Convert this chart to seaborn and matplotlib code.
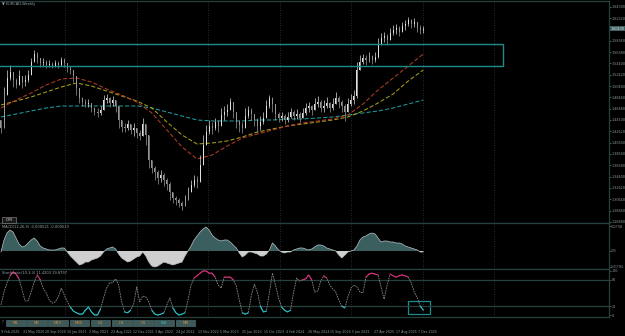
import numpy as np
import pandas as pd
import matplotlib
matplotlib.use("Agg")
import matplotlib.pyplot as plt
import matplotlib.dates as mdates
from matplotlib.patches import Rectangle
import seaborn as sns

sns.set_theme(style="dark", rc={"axes.facecolor": "black", "figure.facecolor": "black",
                                "axes.grid": False})
plt.rcParams['font.family'] = ['DejaVu Sans']

# EURCAD weekly candles (one value every ~2 weeks)
close = [1.4310, 1.4888, 1.5185, 1.5290, 1.5150, 1.5063, 1.5220, 1.5115, 1.5150, 1.5238,
         1.5465, 1.5605, 1.5535, 1.5448, 1.5465, 1.5413, 1.5430, 1.5395, 1.5448, 1.5413,
         1.5500, 1.5448, 1.5360, 1.5325, 1.5220, 1.5010, 1.4835, 1.4765, 1.4730, 1.4748,
         1.4660, 1.4590, 1.4573, 1.4625, 1.4800, 1.4835, 1.4748, 1.4800, 1.4695, 1.4450,
         1.4328, 1.4310, 1.4380, 1.4275, 1.4310, 1.4223, 1.4170, 1.4380, 1.4188, 1.3750,
         1.3610, 1.3540, 1.3435, 1.3488, 1.3400, 1.3330, 1.3190, 1.3085, 1.3050, 1.2998,
         1.2945, 1.3050, 1.3190, 1.3313, 1.3400, 1.3365, 1.3663, 1.4013, 1.4240, 1.4345,
         1.4310, 1.4415, 1.4345, 1.4538, 1.4590, 1.4625, 1.4765, 1.4590, 1.4415, 1.4363,
         1.4310, 1.4520, 1.4625, 1.4555, 1.4450, 1.4345, 1.4415, 1.4485, 1.4695, 1.4835,
         1.4730, 1.4555, 1.4485, 1.4520, 1.4450, 1.4503, 1.4590, 1.4520, 1.4555, 1.4485,
         1.4573, 1.4660, 1.4695, 1.4625, 1.4730, 1.4765, 1.4660, 1.4695, 1.4748, 1.4660,
         1.4730, 1.4835, 1.4765, 1.4695, 1.4590, 1.4730, 1.4800, 1.4870, 1.5325, 1.5465,
         1.5535, 1.5500, 1.5570, 1.5500, 1.5553, 1.5763, 1.5885, 1.5920, 1.5850, 1.5973,
         1.6025, 1.6060, 1.5990, 1.6095, 1.6130, 1.6200, 1.6130, 1.6165, 1.6060, 1.6025,
         1.6043]
high = [1.4450, 1.5028, 1.5325, 1.5413, 1.5290, 1.5185, 1.5325, 1.5220, 1.5238, 1.5325,
        1.5535, 1.5675, 1.5640, 1.5535, 1.5535, 1.5500, 1.5500, 1.5465, 1.5500, 1.5483,
        1.5553, 1.5535, 1.5430, 1.5395, 1.5325, 1.5150, 1.4975, 1.4853, 1.4818, 1.4818,
        1.4730, 1.4678, 1.4660, 1.4695, 1.4888, 1.4905, 1.4853, 1.4870, 1.4800, 1.4625,
        1.4415, 1.4398, 1.4450, 1.4380, 1.4398, 1.4310, 1.4275, 1.4485, 1.4328, 1.3960,
        1.3750, 1.3645, 1.3575, 1.3575, 1.3523, 1.3435, 1.3365, 1.3190, 1.3120, 1.3085,
        1.3033, 1.3138, 1.3278, 1.3400, 1.3488, 1.3470, 1.3838, 1.4188, 1.4363, 1.4450,
        1.4415, 1.4485, 1.4450, 1.4660, 1.4695, 1.4730, 1.4835, 1.4730, 1.4555, 1.4450,
        1.4415, 1.4660, 1.4695, 1.4660, 1.4555, 1.4485, 1.4520, 1.4590, 1.4800, 1.4888,
        1.4853, 1.4660, 1.4590, 1.4590, 1.4555, 1.4590, 1.4660, 1.4625, 1.4643, 1.4590,
        1.4660, 1.4748, 1.4765, 1.4713, 1.4835, 1.4870, 1.4800, 1.4800, 1.4853, 1.4765,
        1.4835, 1.4940, 1.4870, 1.4800, 1.4730, 1.4835, 1.4905, 1.4975, 1.5465, 1.5588,
        1.5605, 1.5588, 1.5640, 1.5588, 1.5640, 1.5885, 1.5973, 1.5990, 1.5955, 1.6060,
        1.6113, 1.6130, 1.6095, 1.6165, 1.6200, 1.6253, 1.6218, 1.6235, 1.6165, 1.6113,
        1.6095]
low = [1.4223, 1.4625, 1.5063, 1.5150, 1.5028, 1.5010, 1.5115, 1.5010, 1.5045, 1.5115,
       1.5325, 1.5500, 1.5448, 1.5378, 1.5395, 1.5360, 1.5378, 1.5360, 1.5378, 1.5360,
       1.5395, 1.5378, 1.5290, 1.5255, 1.5115, 1.4888, 1.4748, 1.4695, 1.4678, 1.4678,
       1.4590, 1.4538, 1.4503, 1.4538, 1.4660, 1.4748, 1.4678, 1.4695, 1.4590, 1.4310,
       1.4240, 1.4240, 1.4275, 1.4205, 1.4170, 1.4135, 1.4100, 1.4275, 1.4013, 1.3610,
       1.3523, 1.3400, 1.3330, 1.3365, 1.3295, 1.3225, 1.3050, 1.2998, 1.2963, 1.2928,
       1.2875, 1.2945, 1.3085, 1.3190, 1.3278, 1.3260, 1.3435, 1.3838, 1.4065, 1.4205,
       1.4205, 1.4275, 1.4240, 1.4415, 1.4450, 1.4520, 1.4625, 1.4485, 1.4310, 1.4240,
       1.4223, 1.4415, 1.4485, 1.4450, 1.4345, 1.4240, 1.4275, 1.4380, 1.4555, 1.4660,
       1.4590, 1.4450, 1.4415, 1.4433, 1.4380, 1.4415, 1.4485, 1.4450, 1.4468, 1.4415,
       1.4485, 1.4538, 1.4590, 1.4538, 1.4625, 1.4678, 1.4590, 1.4590, 1.4660, 1.4590,
       1.4625, 1.4730, 1.4660, 1.4590, 1.4433, 1.4590, 1.4695, 1.4730, 1.4835, 1.5360,
       1.5430, 1.5413, 1.5465, 1.5430, 1.5465, 1.5535, 1.5763, 1.5815, 1.5763, 1.5850,
       1.5938, 1.5955, 1.5920, 1.5990, 1.6025, 1.6095, 1.6060, 1.6078, 1.5990, 1.5955,
       1.5973]
first_open = 1.4450

# moving averages, one reading every 5 bars
ma_fast = [1.4660, 1.4800, 1.4923, 1.5063, 1.5168, 1.5185, 1.5115, 1.4993, 1.4888, 1.4765,
           1.4573, 1.4275, 1.3978, 1.3768, 1.3838, 1.3995, 1.4135, 1.4205, 1.4275, 1.4345,
           1.4398, 1.4433, 1.4468, 1.4538, 1.4730, 1.4975, 1.5185, 1.5395, 1.5605]
ma_mid = [1.4713, 1.4783, 1.4853, 1.4940, 1.5028, 1.5098, 1.5045, 1.4958, 1.4870, 1.4783,
          1.4660, 1.4415, 1.4188, 1.4030, 1.4048, 1.4083, 1.4153, 1.4240, 1.4293, 1.4345,
          1.4380, 1.4415, 1.4450, 1.4503, 1.4608, 1.4748, 1.4905, 1.5133, 1.5325]
ma_slow = [1.4503, 1.4555, 1.4608, 1.4660, 1.4695, 1.4695, 1.4695, 1.4695, 1.4695, 1.4695,
           1.4660, 1.4590, 1.4520, 1.4450, 1.4433, 1.4433, 1.4433, 1.4450, 1.4450, 1.4468,
           1.4468, 1.4485, 1.4503, 1.4538, 1.4573, 1.4608, 1.4660, 1.4730, 1.4800]

# MACD histogram, read in steps of 1/900
macd_steps = [-1, 11, 18, 21, 19, 13, 7, 4, 5, 8,
              11, 13, 10, 5, 3, 2, 1, 1, 1, 2,
              3, 3, -1, -5, -8, -11, -14, -13, -11, -11,
              -9, -8, -7, -5, -1, 2, 3, 4, 2, -3,
              -7, -9, -11, -10, -8, -6, -5, -1, -5, -11,
              -15, -16, -15, -13, -11, -12, -13, -14, -13, -12,
              -11, -5, 0, 5, 11, 15, 19, 22, 24, 21,
              16, 13, 11, 10, 11, 11, 9, 6, 3, -2,
              -6, -4, -1, -1, -2, -3, -5, -5, -3, 1,
              8, 5, 1, -1, -2, -1, -1, 1, 2, 3,
              3, 2, 1, 2, 4, 6, 6, 5, 3, 2,
              1, 0, -4, -7, -4, -1, 0, 1, 5, 11,
              14, 15, 17, 18, 17, 13, 9, 10, 10, 9,
              9, 8, 8, 7, 5, 4, 3, 2, 1, -1,
              -1]

stoch = [23, 52, 73, 89, 98, 93, 82, 57, 32, 32,
         52, 75, 91, 80, 61, 50, 34, 27, 30, 41,
         61, 45, 30, 18, 9, 5, 2, 2, 11, 18,
         7, 0, 0, 14, 39, 61, 73, 73, 82, 68,
         30, 7, 5, 11, 25, 64, 30, 43, 41, 30,
         11, 2, 0, 2, 5, 23, 39, 16, 5, 0,
         2, 5, 34, 68, 84, 89, 95, 100, 100, 95,
         95, 86, 68, 61, 86, 86, 86, 80, 66, 34,
         5, 2, 5, 45, 70, 52, 20, 7, 9, 52,
         95, 68, 39, 18, 11, 7, 11, 52, 84, 77,
         80, 82, 91, 80, 52, 55, 77, 89, 84, 68,
         59, 52, 34, 20, 16, 41, 61, 68, 64, 52,
         50, 86, 93, 95, 93, 91, 64, 36, 68, 93,
         89, 86, 89, 91, 89, 86, 73, 52, 39, 20,
         11]

price_ticks = [1.6430, 1.6232, 1.5836, 1.5638, 1.5440, 1.5242, 1.5044, 1.4846, 1.4648,
               1.4450, 1.4252, 1.4054, 1.3856, 1.3658, 1.3460, 1.3262, 1.3064, 1.2866, 1.2668]
macd_ticks = [0.027746, 0.0, -0.017760]
date_labels = ["9 Feb 2020", "31 May 2020", "20 Sep 2020", "10 Jan 2021", "2 May 2021",
               "22 Aug 2021", "12 Dec 2021", "3 Apr 2022", "24 Jul 2022", "13 Nov 2022",
               "5 Mar 2023", "25 Jun 2023", "15 Oct 2023", "4 Feb 2024", "26 May 2024",
               "15 Sep 2024", "5 Jan 2025", "27 Apr 2025", "17 Aug 2025", "7 Dec 2025"]
tf_buttons = ["M1", "M5", "M15", "M30", "H1", "H4", "D1", "W1", "MN"]

zone_top, zone_bottom = 1.5780, 1.5395
zone_end = "2027-02-15"

dates = pd.date_range("2020-02-09", "2026-01-04", periods=len(close))
ma_dates = dates[::5]

W, H = 625, 336
fig = plt.figure(figsize=(W / 100, H / 100), dpi=100)
fig.patch.set_facecolor("black")


def box(x0, y0, x1, y1):
    return [x0 / W, 1 - y1 / H, (x1 - x0) / W, (y1 - y0) / H]


ax_p = fig.add_axes(box(0, 1, 609, 223))
ax_m = fig.add_axes(box(0, 223, 609, 269))
ax_s = fig.add_axes(box(0, 269, 609, 317))

border = "#27403f"
label_col = "#8e9e9e"
fs = 2.4
x_left, x_right = pd.Timestamp("2020-02-04"), pd.Timestamp("2028-08-09")

for ax in (ax_p, ax_m, ax_s):
    ax.set_facecolor("black")
    for yr in range(2021, 2028):
        ax.axvline(pd.Timestamp(f"{yr}-01-01"), color="#3a3a3a", lw=0.6, ls=(0, (1, 2)), zorder=0)
    ax.spines["left"].set_visible(False)
    for s in ("top", "bottom", "right"):
        ax.spines[s].set_color(border)
        ax.spines[s].set_linewidth(0.9)
    ax.yaxis.tick_right()
    ax.tick_params(axis="y", right=True, left=False, labelright=True, labelleft=False,
                   length=1.2, width=0.4, pad=0.6, labelsize=fs, colors=label_col)
    ax.tick_params(axis="x", bottom=False, labelbottom=False)

# ---- price panel ----
c = np.array(close)
o = np.r_[first_open, c[:-1]]
hi = np.maximum(np.array(high), np.maximum(o, c))
lo = np.minimum(np.array(low), np.minimum(o, c))
bull = c >= o
ax_p.vlines(dates, lo, hi, color=np.where(bull, "#d8d8d8", "#9a9a9a"), lw=0.5, zorder=3)
ax_p.bar(dates, c - o, bottom=o, width=5, color=np.where(bull, "#e0e0e0", "#959595"),
         linewidth=0, zorder=3)

sns.lineplot(x=ma_dates, y=ma_slow, ax=ax_p, color="#1f9c9c", lw=0.75, ls=(0, (4, 2)), zorder=2)
sns.lineplot(x=ma_dates, y=ma_mid, ax=ax_p, color="#a69e1a", lw=0.75, ls=(0, (4, 2)), zorder=2)
sns.lineplot(x=ma_dates, y=ma_fast, ax=ax_p, color="#b03c26", lw=0.75, ls=(0, (4, 2)), zorder=2)

x0 = mdates.date2num(pd.Timestamp("2019-06-01"))
ax_p.add_patch(Rectangle((x0, zone_bottom), mdates.date2num(pd.Timestamp(zone_end)) - x0,
                         zone_top - zone_bottom, fill=False, ec="#1e8c8c", lw=1.0, zorder=4))

ax_p.set_ylim(1.26475, 1.65325)
ax_p.set_yticks(price_ticks)
ax_p.set_yticklabels([f"{v:.5f}" for v in price_ticks])
ax_p.text(1.002, close[-1], f"{close[-1]:.5f}", transform=ax_p.get_yaxis_transform(),
          fontsize=fs, color="#e8f0f0", va="center", ha="left",
          bbox=dict(boxstyle="square,pad=0.15", fc="#3f6060", ec="none"))

# ---- MACD panel ----
mv = np.array(macd_steps) / 900
ax_m.fill_between(dates, mv, 0, where=mv >= 0, interpolate=True, color="#3b5f5f", lw=0)
ax_m.fill_between(dates, mv, 0, where=mv <= 0, interpolate=True, color="#cfcfcf", lw=0)
ax_m.plot(dates, mv, color="#b8c4c4", lw=0.5)
ax_m.set_ylim(-0.0200, 0.0311)
ax_m.set_yticks(macd_ticks)
ax_m.set_yticklabels(["0.027746", "0.00", "-0.017760"])
ax_m.tick_params(axis="y", labelsize=1.9, pad=0.4)

# ---- Stochastic panel ----
sv = np.array(stoch, dtype=float)
ax_s.axhline(80, color=border, lw=0.9)
ax_s.axhline(20, color=border, lw=0.9)
sns.lineplot(x=dates, y=sv, ax=ax_s, color="#8a8a8a", lw=0.6, ls=(0, (2, 1)))
ax_s.plot(dates, np.where(sv >= 78, sv, np.nan), color="#e0287a", lw=0.8)
ax_s.plot(dates, np.where(sv <= 22, sv, np.nan), color="#1fc4cc", lw=0.8)
r0 = mdates.date2num(pd.Timestamp("2025-10-18"))
ax_s.add_patch(Rectangle((r0, 2), mdates.date2num(pd.Timestamp("2026-02-07")) - r0, 30,
                         fill=False, ec="#1e8c8c", lw=0.9))
ax_s.set_ylim(-4.5, 104.5)
ax_s.set_yticks([100, 80, 20, 0])
ax_s.set_yticklabels(["100", "80", "20", "0"])

tick_dates = pd.to_datetime(date_labels, format="%d %b %Y")
ax_s.set_xticks(tick_dates)
ax_s.set_xticklabels(date_labels)
ax_s.tick_params(axis="x", bottom=True, labelbottom=True, length=0, pad=9.5,
                 labelsize=2.3, colors=label_col)
for t in ax_s.get_xticklabels():
    t.set_ha("left")

for ax in (ax_p, ax_m, ax_s):
    ax.set_xlim(x_left, x_right)
    ax.set_xlabel("")
    ax.set_ylabel("")

# ---- labels and buttons ----
def ftext(x, y, s, **kw):
    fig.text(x / W, 1 - y / H, s, **kw)


ftext(2, 4, "\u25bc EURCAD,Weekly", fontsize=2.6, color="#9aa8a8", va="center")
ftext(2, 227, "MACD(12,26,9) -0.000521 -0.000523", fontsize=2.6, color="#9aa8a8", va="center")
ftext(2, 273, "Stochastic(10,3,3) 11.4203 19.8797", fontsize=2.6, color="#9aa8a8", va="center")

fig.patches.append(Rectangle((2 / W, 1 - 223 / H), 14 / W, 6 / H, transform=fig.transFigure,
                             fc="#1a1a1a", ec="#7a7a7a", lw=0.5))
ftext(9, 220, "OM", fontsize=3, color="#e0e0e0", ha="center", va="center")

ftext(2, 322, "?", fontsize=2.6, color="#8a9a9a", va="center")
for i, name in enumerate(tf_buttons):
    bx = 6 + i * 21.2
    fig.patches.append(Rectangle((bx / W, 1 - 326 / H), 19.5 / W, 6 / H,
                                 transform=fig.transFigure, fc="#3d5959", ec="#5a7878", lw=0.4))
    ftext(bx + 9.7, 323, name, fontsize=2.8, ha="center", va="center",
          color="#3cc8c8" if name == "W1" else "#d88a3a")

fig.savefig("out.png", dpi=100, facecolor="black")
